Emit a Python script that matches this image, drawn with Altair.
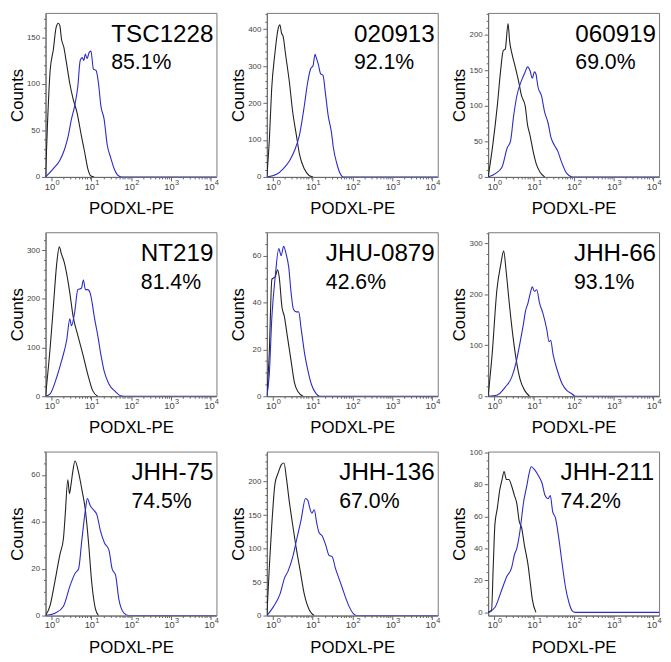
import altair as alt
import pandas as pd

# ---------------- data ----------------
names = ["TSC1228", "020913", "060919", "NT219", "JHU-0879", "JHH-66", "JHH-75", "JHH-136", "JHH-211"]
percents = ["85.1%", "92.1%", "69.0%", "81.4%", "42.6%", "93.1%", "74.5%", "67.0%", "74.2%"]
y_top = [176, 444, 231, 337, 70, 322, 70, 245, 100.5]
y_bottom = [0, 0, 0, 0, 0, 0, 0, 0, -2]
y_major = [50, 100, 50, 100, 20, 100, 20, 50, 20]
y_minor = [10, 20, 10, 20, 5, 20, 5, 10, 5]

# log10 of PODXL-PE intensity, and counts: isotype (black) and PODXL (blue)
p1_iso_exp = [-0.15, -0.10, -0.035, 0.047, 0.113, 0.17, 0.21, 0.25, 0.31, 0.38, 0.46, 0.54, 0.64, 0.75, 0.83, 0.91, 0.99, 1.07]
p1_iso_cnt = [0, 58, 114, 137, 160, 165, 162, 148, 139, 121, 100, 84, 69, 44, 27, 9, 1, 0]
p1_pod_exp = [-0.15, 0.047, 0.21, 0.33, 0.42, 0.50, 0.58, 0.66, 0.72, 0.77, 0.81, 0.85, 0.89, 0.95, 0.99, 1.05, 1.12, 1.18, 1.24, 1.32, 1.40, 1.49, 1.57, 1.69, 1.77, 4.14]
p1_pod_cnt = [0, 9, 18, 30, 44, 62, 76, 97, 125, 128, 125, 132, 127, 134, 135, 116, 114, 100, 76, 62, 34, 20, 9, 1, 0, 0]

p2_iso_exp = [-0.15, -0.085, -0.03, 0.05, 0.136, 0.177, 0.22, 0.26, 0.32, 0.42, 0.50, 0.59, 0.67, 0.79, 0.91, 1.01]
p2_iso_cnt = [0, 105, 236, 332, 402, 412, 389, 380, 332, 253, 175, 114, 61, 22, 4, 0]
p2_pod_exp = [-0.15, 0.095, 0.26, 0.42, 0.54, 0.67, 0.79, 0.87, 0.95, 1.01, 1.06, 1.09, 1.14, 1.20, 1.26, 1.32, 1.39, 1.47, 1.52, 1.61, 1.69, 1.77, 4.14]
p2_pod_cnt = [0, 7, 22, 44, 70, 114, 192, 253, 293, 301, 332, 323, 306, 279, 275, 227, 166, 122, 79, 35, 9, 0, 0]

p3_iso_exp = [-0.15, -0.043, 0.08, 0.16, 0.23, 0.28, 0.35, 0.39, 0.45, 0.53, 0.61, 0.69, 0.78, 0.84, 0.90, 0.98, 1.06, 1.15, 1.27]
p3_iso_cnt = [0, 41, 100, 148, 178, 180, 216, 191, 173, 155, 136, 114, 100, 73, 59, 36, 18, 7, 0]
p3_pod_exp = [-0.15, 0.04, 0.20, 0.33, 0.41, 0.49, 0.57, 0.69, 0.78, 0.84, 0.90, 0.96, 1.01, 1.05, 1.10, 1.19, 1.27, 1.35, 1.43, 1.51, 1.60, 1.68, 1.80, 1.88, 1.97, 4.14]
p3_pod_cnt = [0, 5, 14, 41, 50, 86, 114, 136, 148, 155, 150, 139, 148, 145, 127, 114, 91, 77, 55, 45, 36, 23, 7, 2, 0, 0]

p4_iso_exp = [-0.15, -0.035, 0.047, 0.13, 0.195, 0.25, 0.32, 0.38, 0.46, 0.54, 0.66, 0.79, 0.91, 1.03, 1.16]
p4_iso_cnt = [0, 99, 185, 272, 307, 292, 275, 252, 212, 165, 125, 85, 45, 12, 0]
p4_pod_exp = [-0.15, -0.035, 0.13, 0.25, 0.38, 0.46, 0.50, 0.58, 0.66, 0.75, 0.80, 0.85, 0.91, 0.97, 1.02, 1.07, 1.16, 1.24, 1.32, 1.44, 1.61, 1.73, 1.82, 4.14]
p4_pod_cnt = [0, 5, 39, 72, 115, 159, 145, 172, 219, 222, 239, 219, 219, 212, 192, 165, 125, 85, 52, 25, 9, 1, 0, 0]

p5_iso_exp = [-0.15, -0.09, -0.023, 0.06, 0.12, 0.16, 0.23, 0.29, 0.37, 0.46, 0.54, 0.63, 0.76]
p5_iso_cnt = [0, 18, 50, 51, 54, 51, 38, 34, 25, 15, 6, 2, 0]
p5_pod_exp = [-0.15, -0.09, -0.023, 0.06, 0.15, 0.21, 0.27, 0.33, 0.40, 0.46, 0.52, 0.59, 0.65, 0.71, 0.80, 0.88, 0.97, 1.09, 1.18, 4.14]
p5_pod_cnt = [0, 9, 34, 51, 63, 60, 64, 61, 55, 44, 37, 36, 36, 29, 18, 11, 5, 1, 0, 0]

p6_iso_exp = [-0.15, -0.05, 0.07, 0.17, 0.24, 0.30, 0.38, 0.48, 0.56, 0.66, 0.77, 0.89]
p6_iso_cnt = [0, 82, 209, 260, 285, 247, 183, 113, 69, 31, 11, 0]
p6_pod_exp = [-0.15, 0.07, 0.28, 0.44, 0.56, 0.64, 0.73, 0.79, 0.85, 0.91, 0.96, 1.01, 1.07, 1.14, 1.22, 1.32, 1.38, 1.42, 1.48, 1.59, 1.71, 1.83, 1.95, 2.04, 4.14]
p6_pod_cnt = [0, 2, 18, 37, 69, 101, 139, 168, 183, 203, 215, 206, 209, 183, 164, 132, 107, 110, 82, 50, 24, 11, 5, 0, 0]

p7_iso_exp = [-0.15, -0.04, 0.09, 0.21, 0.30, 0.34, 0.41, 0.45, 0.49, 0.53, 0.59, 0.68, 0.76, 0.85, 0.93, 1.01, 1.10, 1.18]
p7_iso_cnt = [0, 4, 15, 26, 33, 42, 58, 52, 56, 61, 66, 61, 54, 45, 31, 14, 3, 0]
p7_pod_exp = [-0.15, 0.09, 0.30, 0.47, 0.59, 0.68, 0.76, 0.85, 0.90, 0.97, 1.06, 1.14, 1.23, 1.33, 1.44, 1.52, 1.61, 1.69, 1.82, 1.94, 4.14]
p7_pod_cnt = [0, 1, 4, 13, 18, 20, 32, 45, 50, 47, 45, 43, 36, 31, 28, 20, 17, 7, 1, 0, 0]

p8_iso_exp = [-0.15, -0.084, -0.027, 0.055, 0.14, 0.22, 0.28, 0.34, 0.41, 0.49, 0.59, 0.69, 0.79, 0.92, 1.04]
p8_iso_cnt = [0, 76, 134, 197, 214, 226, 228, 206, 172, 139, 100, 66, 32, 8, 0]
p8_pod_exp = [-0.15, 0.014, 0.18, 0.30, 0.38, 0.51, 0.60, 0.71, 0.82, 0.88, 0.93, 0.98, 1.04, 1.10, 1.16, 1.24, 1.33, 1.41, 1.49, 1.57, 1.65, 1.74, 1.82, 1.92, 2.02, 2.10, 4.14]
p8_pod_cnt = [0, 13, 32, 57, 66, 90, 114, 143, 175, 172, 160, 153, 158, 139, 124, 119, 105, 90, 88, 71, 57, 42, 28, 13, 3, 0, 0]

p9_iso_exp = [-0.15, -0.066, -0.02, 0.02, 0.08, 0.145, 0.20, 0.25, 0.31, 0.37, 0.44, 0.51, 0.57, 0.63, 0.69, 0.76, 0.85, 0.91, 0.96, 1.05]
p9_iso_cnt = [0, 1, 30, 55, 65, 77, 83, 88, 83, 83, 79, 73, 68, 57, 53, 42, 30, 18, 8, 0]
p9_pod_exp = [-0.15, 0.02, 0.19, 0.31, 0.44, 0.51, 0.57, 0.65, 0.74, 0.82, 0.88, 0.93, 1.02, 1.12, 1.20, 1.28, 1.35, 1.41, 1.47, 1.54, 1.62, 1.71, 1.79, 1.88, 1.96, 2.04, 4.14]
p9_pod_cnt = [0, 3, 14, 22, 28, 36, 40, 51, 69, 79, 87, 91, 89, 85, 81, 73, 71, 73, 63, 59, 47, 30, 16, 6, 1, 0, 0]

iso_exps = [p1_iso_exp, p2_iso_exp, p3_iso_exp, p4_iso_exp, p5_iso_exp, p6_iso_exp, p7_iso_exp, p8_iso_exp, p9_iso_exp]
iso_cnts = [p1_iso_cnt, p2_iso_cnt, p3_iso_cnt, p4_iso_cnt, p5_iso_cnt, p6_iso_cnt, p7_iso_cnt, p8_iso_cnt, p9_iso_cnt]
pod_exps = [p1_pod_exp, p2_pod_exp, p3_pod_exp, p4_pod_exp, p5_pod_exp, p6_pod_exp, p7_pod_exp, p8_pod_exp, p9_pod_exp]
pod_cnts = [p1_pod_cnt, p2_pod_cnt, p3_pod_cnt, p4_pod_cnt, p5_pod_cnt, p6_pod_cnt, p7_pod_cnt, p8_pod_cnt, p9_pod_cnt]

decade_ticks = [1, 10, 100, 1000, 10000]
decade_exponents = ["0", "1", "2", "3", "4"]

# ---------------- layout / style ----------------
W, H = 173, 166
X_LO, X_HI = 10 ** -0.15, 10 ** 4.14
FONT = "Liberation Sans"
NAME_FS, PCT_FS = 24.5, 21.5
ISO_COLOR, POD_COLOR = "#222222", "#2b2bc8"
TICK_TEXT = "#444444"

ARIAL_W = {c: 556 for c in "0123456789"}
ARIAL_W.update({"T": 611, "S": 667, "C": 722, "N": 722, "H": 722, "J": 500, "U": 722, "-": 333})


def text_width(s, fs):
    return sum(ARIAL_W.get(c, 600) for c in s) * fs / 1000.0


minor_x = [m * 10 ** k for k in range(4) for m in range(1, 10)] + [10000]
major_test_x = " || ".join(f"datum.value == {v}" for v in decade_ticks)


def panel(i):
    iso = pd.DataFrame({"x": [10 ** e for e in iso_exps[i]], "count": iso_cnts[i]})
    pod = pd.DataFrame({"x": [10 ** e for e in pod_exps[i]], "count": pod_cnts[i]})
    ticks = pd.DataFrame({"x": decade_ticks, "b": ["10"] * 5, "e": decade_exponents})

    xaxis = alt.Axis(
        values=minor_x, labels=False, grid=False,
        tickSize={"condition": {"test": major_test_x, "value": 4}, "value": 2},
        minExtent=20, maxExtent=20, titlePadding=4,
    )
    xenc = alt.X("x:Q", scale=alt.Scale(type="log", domain=[X_LO, X_HI], nice=False),
                 axis=xaxis, title="PODXL-PE")

    step, mstep = y_major[i], y_minor[i]
    yvals = list(range(0, int(y_top[i]) + 1, mstep))
    yaxis = alt.Axis(
        values=yvals, grid=False, labelFontSize=8, labelPadding=2,
        labelExpr=f"datum.value % {step} == 0 ? datum.label : ''",
        tickSize={"condition": {"test": f"datum.value % {step} == 0", "value": 4}, "value": 2},
        minExtent=17, maxExtent=17, titlePadding=2.5,
    )
    yenc = alt.Y("count:Q", scale=alt.Scale(domain=[y_bottom[i], y_top[i]], nice=False, zero=False),
                 axis=yaxis, title="Counts")

    l_iso = alt.Chart(iso).mark_line(color=ISO_COLOR, strokeWidth=1.1, clip=True,
                                     interpolate="monotone").encode(x=xenc, y=yenc)
    l_pod = alt.Chart(pod).mark_line(color=POD_COLOR, strokeWidth=1.1, clip=True,
                                     interpolate="monotone").encode(x=xenc, y=yenc)

    t_ten = alt.Chart(ticks).mark_text(
        align="center", baseline="alphabetic", dx=-1.5, fontSize=9.5, font=FONT, color=TICK_TEXT
    ).encode(x=xenc, y=alt.value(H + 13), text="b:N")
    t_sup = alt.Chart(ticks).mark_text(
        align="left", baseline="alphabetic", dx=4, fontSize=7.5, font=FONT, color=TICK_TEXT
    ).encode(x=xenc, y=alt.value(H + 8), text="e:N")

    left = W - 3 - text_width(names[i], NAME_FS)
    t_name = alt.Chart(pd.DataFrame({"t": [names[i]]})).mark_text(
        align="left", baseline="alphabetic", fontSize=NAME_FS, font=FONT, color="black"
    ).encode(x=alt.value(left), y=alt.value(29), text="t:N")
    t_pct = alt.Chart(pd.DataFrame({"t": [percents[i]]})).mark_text(
        align="left", baseline="alphabetic", fontSize=PCT_FS, font=FONT, color="black"
    ).encode(x=alt.value(left), y=alt.value(57), text="t:N")

    return alt.layer(l_iso, l_pod, t_ten, t_sup, t_name, t_pct).properties(width=W, height=H)


chart = alt.concat(
    *[panel(i) for i in range(9)], columns=3,
    spacing={"row": 56, "column": 51}, bounds="flush", padding=0,
).configure_view(
    stroke="#7a7a7a", strokeWidth=1
).configure_axis(
    domainColor="#666666", tickColor="#666666", labelColor=TICK_TEXT,
    labelFont=FONT, titleFont=FONT, titleFontWeight="normal", titleColor="black",
    titleFontSize=17, domainWidth=1, tickWidth=1,
)

chart.save("out.html", embed_options={"renderer": "svg", "actions": False})
